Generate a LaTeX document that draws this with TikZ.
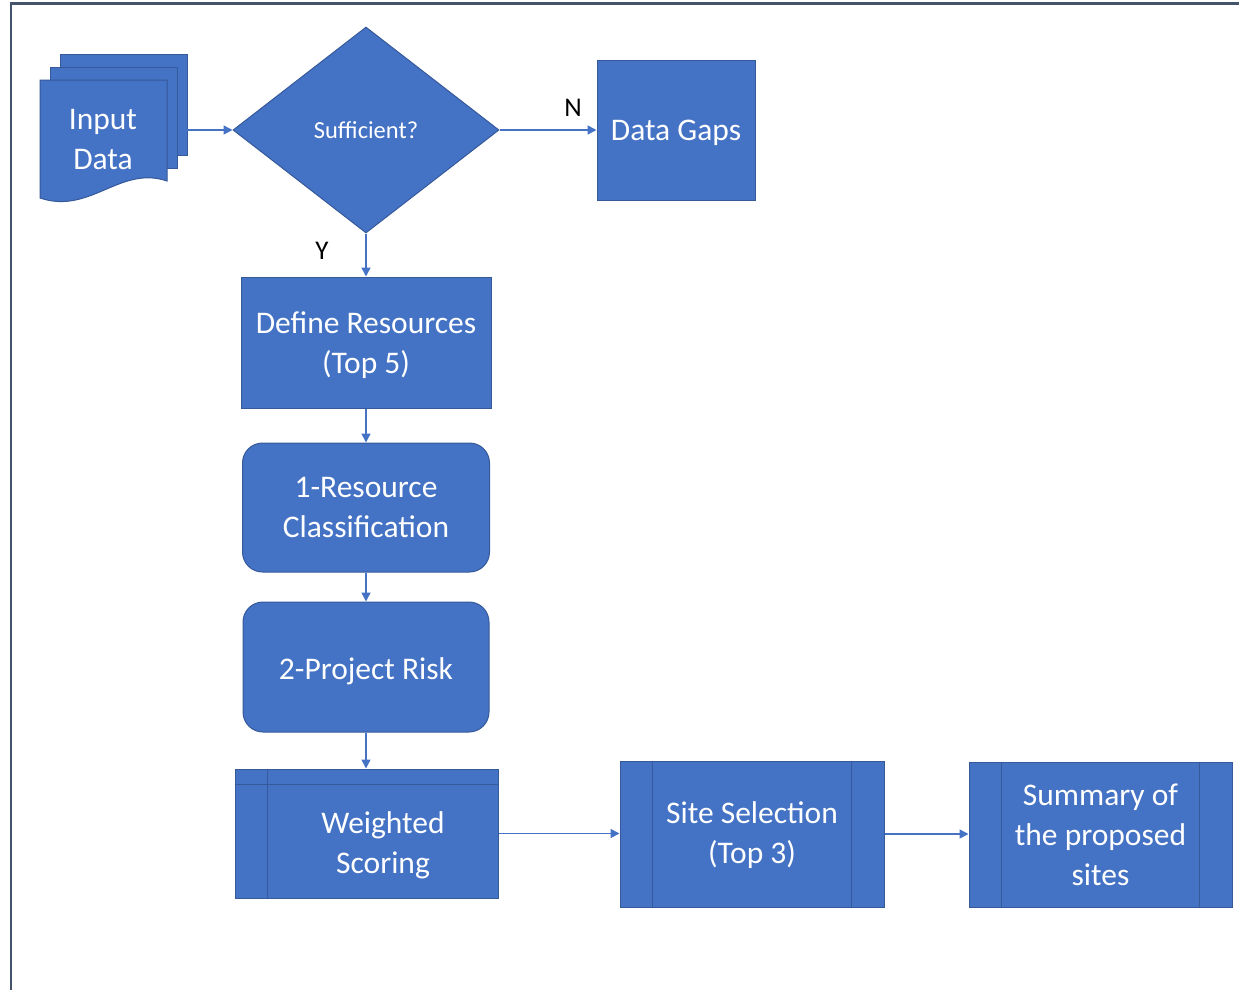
\documentclass[tikz,border=0pt]{standalone}
\usepackage{fontspec}
\setmainfont{Carlito}
\usetikzlibrary{shapes.geometric,arrows.meta,calc}
\definecolor{blu}{HTML}{4472C4}
\definecolor{bord}{HTML}{36599A}
\definecolor{frame}{HTML}{44546A}
\newcommand\bigf{\fontsize{31.5}{40}\selectfont}
\newcommand\midf{\fontsize{24.5}{30}\selectfont}
\newcommand\lblf{\fontsize{27}{30}\selectfont}
\tikzset{
  box/.style={draw=bord, fill=blu, line width=1pt, inner sep=0pt},
  txt/.style={text=white, font=\bigf, align=center, inner sep=0pt},
  lab/.style 2 args={label={[txt,yshift=-#1pt]center:{#2}}},
  edge line/.style={bord, line width=1pt},
  conn/.style={draw=blu, line width=1.5pt, -{Triangle[length=9pt,width=9pt]}},
  yn/.style={text=black, font=\lblf, inner sep=0pt},
}
\begin{document}
\begin{tikzpicture}[x=1pt,y=-1pt]
\useasboundingbox (0,0) rectangle (1239,990);
\draw[frame, line width=2.5pt] (1239,3.5) -- (11,3.5) -- (11,990);
% multi-document
\draw[box] (60,55) rectangle (187,155);
\draw[box] (50,68) rectangle (177,168);
\draw[box] (40,80) -- (167,80) -- (167,181)
   .. controls (120,165) and (90,215) .. (40,198) -- cycle;
\node[txt] (input) at (103,140) {Input\\Data};
\coordinate (inR) at (187,130);
% decision
\node[box, diamond, minimum width=266pt, minimum height=206pt, text=white, font=\midf] (dia) at (366,130) {Sufficient?};
\node[box, minimum width=158pt, minimum height=139pt, lab={2}{Data Gaps}] (gaps) at (676,130.5) {};
\node[box, minimum width=250pt, minimum height=131pt, lab={3}{Define Resources\\(Top 5)}] (def) at (366,342.5) {};
\node[box, rounded corners=20pt, minimum width=247pt, minimum height=129pt, lab={0}{1-Resource\\Classification}] (rc) at (366,507.5) {};
\node[box, rounded corners=20pt, minimum width=246pt, minimum height=130pt, lab={4}{2-Project Risk}] (pr) at (366,667) {};
% weighted scoring (internal storage style)
\node[box, minimum width=263pt, minimum height=129pt] (ws) at (366.5,833.5) {};
\draw[edge line] ([xshift=33pt]ws.north west) -- ([xshift=33pt]ws.south west);
\draw[edge line] ([yshift=-16pt]ws.north west) -- ([yshift=-16pt]ws.north east);
\node[txt] (wst) at (383,845) {Weighted\\Scoring};
% site selection (predefined process)
\node[box, minimum width=264pt, minimum height=146pt, lab={1}{Site Selection\\(Top 3)}] (site) at (752,834) {};
\draw[edge line] ([xshift=33pt]site.north west) -- ([xshift=33pt]site.south west);
\draw[edge line] ([xshift=-33pt]site.north east) -- ([xshift=-33pt]site.south east);
\node[box, minimum width=263pt, minimum height=145pt, lab={0}{Summary of\\the proposed\\sites}] (sum) at (1100.5,834.5) {};
\draw[edge line] ([xshift=33pt]sum.north west) -- ([xshift=33pt]sum.south west);
\draw[edge line] ([xshift=-33pt]sum.north east) -- ([xshift=-33pt]sum.south east);
% connectors
\draw[conn] (inR) -- (dia.west);
\draw[conn] (dia.east) -- (dia.east -| gaps.west);
\draw[conn] (dia.south) -- (dia.south |- def.north);
\draw[conn] (def.south) -- (rc.north);
\draw[conn] (rc.south) -- (pr.north);
\draw[conn] (pr.south) -- (pr.south |- ws.north);
\draw[conn] (ws.east) -- (ws.east -| site.west);
\draw[conn] (site.east) -- (site.east -| sum.west);
% labels
\node[yn] (nlbl) at (573,108) {N};
\node[yn] (ylbl) at (322,251) {Y};
\end{tikzpicture}
\end{document}
